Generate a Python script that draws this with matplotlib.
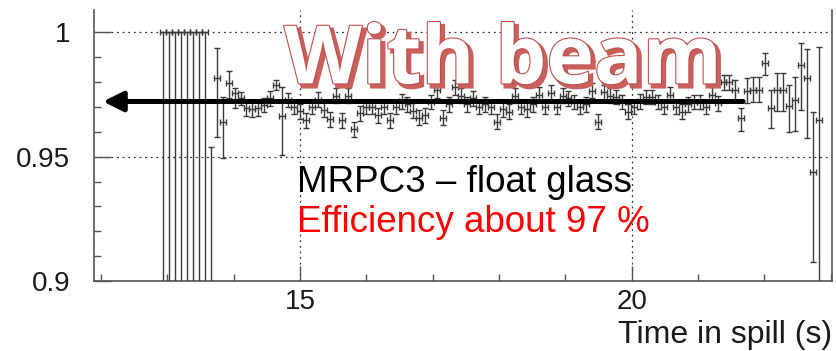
import matplotlib.pyplot as plt
import matplotlib.patheffects as pe
from matplotlib.ticker import MultipleLocator, FormatStrFormatter
import numpy as np

plt.rcParams['font.family'] = ['Liberation Sans', 'DejaVu Sans']

# efficiency per time bin (histogram starts at 12.934 s, 0.0899 s bins)
bin_first = 12.934
bin_width = 0.0899

eff = [1.0, 1.0, 1.0, 1.0, 1.0, 1.0, 1.0, 1.0, 0.85, 0.9815,
       0.964, 0.9795, 0.9755, 0.9736, 0.9694, 0.969, 0.9695, 0.9708, 0.9735, 0.979,
       0.9663, 0.9728, 0.970, 0.9683, 0.9647, 0.970, 0.973, 0.9688, 0.965, 0.9745,
       0.9647, 0.9745, 0.961, 0.9674, 0.970, 0.970, 0.9667, 0.970, 0.9647, 0.970,
       0.9722, 0.971, 0.9684, 0.9657, 0.9667, 0.972, 0.9768, 0.9657, 0.971, 0.978,
       0.9745, 0.971, 0.9735, 0.970, 0.971, 0.970, 0.964, 0.969, 0.968, 0.9745,
       0.970, 0.969, 0.971, 0.975, 0.970, 0.9758, 0.970, 0.9745, 0.9735, 0.972,
       0.970, 0.971, 0.9765, 0.964, 0.976, 0.9745, 0.974, 0.972, 0.968, 0.970,
       0.9722, 0.974, 0.974, 0.972, 0.970, 0.975, 0.970, 0.968, 0.971, 0.972,
       0.972, 0.970, 0.975, 0.9714, 0.980, 0.980, 0.9768, 0.9654, 0.9765, 0.977,
       0.977, 0.9875, 0.9694, 0.977, 0.977, 0.9703, 0.9728, 0.9868, 0.9815, 0.944,
       0.9647]

err_lo = [0.15, 0.15, 0.15, 0.15, 0.15, 0.15, 0.15, 0.15, 0.05, 0.0235,
          0.0144, 0.006, 0.006, 0.003, 0.003, 0.003, 0.003, 0.003, 0.003, 0.002,
          0.0157, 0.003, 0.003, 0.003, 0.003, 0.003, 0.003, 0.003, 0.003, 0.003,
          0.003, 0.003, 0.003, 0.003, 0.003, 0.003, 0.003, 0.003, 0.003, 0.003,
          0.003, 0.003, 0.003, 0.003, 0.003, 0.003, 0.003, 0.003, 0.003, 0.003,
          0.003, 0.003, 0.003, 0.003, 0.003, 0.003, 0.003, 0.003, 0.003, 0.003,
          0.003, 0.003, 0.003, 0.003, 0.003, 0.003, 0.003, 0.003, 0.003, 0.003,
          0.003, 0.003, 0.003, 0.003, 0.003, 0.003, 0.003, 0.003, 0.003, 0.003,
          0.003, 0.003, 0.003, 0.003, 0.003, 0.003, 0.003, 0.003, 0.003, 0.003,
          0.003, 0.003, 0.003, 0.003, 0.003, 0.003, 0.004, 0.005, 0.005, 0.005,
          0.005, 0.0045, 0.008, 0.0085, 0.0085, 0.0105, 0.0125, 0.018, 0.024, 0.0365,
          0.07]

err_hi = [0.0, 0.0, 0.0, 0.0, 0.0, 0.0, 0.0, 0.0, 0.104, 0.0121,
          0.010, 0.005, 0.0022, 0.0023, 0.003, 0.003, 0.003, 0.003, 0.003, 0.002,
          0.0117, 0.003, 0.003, 0.003, 0.003, 0.003, 0.003, 0.003, 0.003, 0.003,
          0.003, 0.003, 0.003, 0.003, 0.003, 0.003, 0.003, 0.003, 0.003, 0.003,
          0.003, 0.003, 0.003, 0.003, 0.003, 0.003, 0.003, 0.003, 0.003, 0.003,
          0.003, 0.003, 0.003, 0.003, 0.003, 0.003, 0.003, 0.003, 0.003, 0.003,
          0.003, 0.003, 0.003, 0.003, 0.003, 0.003, 0.003, 0.003, 0.003, 0.003,
          0.003, 0.003, 0.003, 0.003, 0.003, 0.003, 0.003, 0.003, 0.003, 0.003,
          0.003, 0.003, 0.003, 0.003, 0.003, 0.003, 0.003, 0.003, 0.003, 0.003,
          0.003, 0.003, 0.003, 0.003, 0.003, 0.003, 0.004, 0.004, 0.005, 0.005,
          0.005, 0.0042, 0.0075, 0.0065, 0.0065, 0.0085, 0.0093, 0.0088, 0.012, 0.024,
          0.0295]

mean_eff = 0.9722
arrow_from = 21.68
arrow_to = 12.03

t = bin_first + bin_width * np.arange(len(eff))

fig = plt.figure(figsize=(8.36, 3.51), dpi=100)
ax = fig.add_axes([0.1124, 0.1994, 0.8828, 0.7721])

ax.errorbar(t, eff, xerr=bin_width / 2, yerr=[err_lo, err_hi], fmt='none',
            ecolor='#3a3a3a', elinewidth=1.0, capsize=2.4, capthick=1.0,
            zorder=3)

ax.set_xlim(11.893, 23.02)
ax.set_ylim(0.9, 1.009)

ax.xaxis.set_major_locator(MultipleLocator(5))
ax.xaxis.set_minor_locator(MultipleLocator(1))
ax.yaxis.set_major_locator(MultipleLocator(0.05))
ax.yaxis.set_minor_locator(MultipleLocator(0.01))
ax.yaxis.set_major_formatter(FormatStrFormatter('%g'))

ax.tick_params(which='both', direction='in', colors='#555555',
               labelcolor='#1a1a1a', labelsize=20)
ax.tick_params(axis='x', which='major', length=11, width=1.0, pad=6)
ax.tick_params(axis='x', which='minor', length=5, width=1.0)
ax.tick_params(axis='y', which='major', length=12, width=1.0, pad=17)
ax.tick_params(axis='y', which='minor', length=5, width=1.0)

ax.spines['top'].set_visible(False)
for side in ['left', 'bottom', 'right']:
    ax.spines[side].set_color('#555555')
    ax.spines[side].set_linewidth(1.2)

ax.grid(True, which='major', color='#333333', linestyle=(0, (1.5, 3)),
        linewidth=0.9, zorder=1)

ax.set_xlabel('Time in spill (s)', loc='right', fontsize=23, labelpad=3,
              color='#1a1a1a')

# mean efficiency arrow
ax.annotate('', xy=(arrow_to, mean_eff), xytext=(arrow_from, mean_eff),
            arrowprops=dict(arrowstyle='-|>,head_length=0.6,head_width=0.3',
                            lw=3.6, color='black', mutation_scale=20,
                            shrinkA=0, shrinkB=0),
            zorder=5)

# outlined title with drop shadow
title_fx = [
    pe.PathPatchEffect(offset=(2.5, -2.5), facecolor='#c9605c',
                       edgecolor='#c9605c', linewidth=2.5),
    pe.Stroke(linewidth=1.6, foreground='#c0504d'),
    pe.Normal(),
]
ax.text(14.76, 0.9795, 'With beam', fontsize=58, fontweight='bold',
        family=['Open Sans', 'DejaVu Sans'], color='white',
        va='baseline', ha='left', path_effects=title_fx, zorder=6)

ax.text(14.95, 0.9358, 'MRPC3 \u2013 float glass', fontsize=26.5,
        color='black', va='baseline', ha='left', zorder=6)
ax.text(14.95, 0.9197, 'Efficiency about 97 %', fontsize=26.5,
        color='#ff0000', va='baseline', ha='left', zorder=6)

fig.savefig('out.png', dpi=100)
